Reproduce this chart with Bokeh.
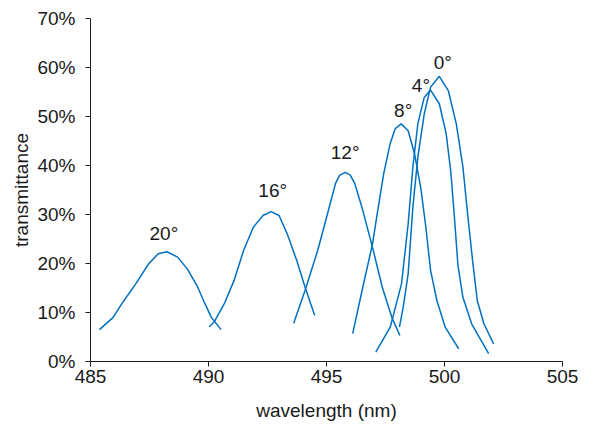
from bokeh.plotting import figure
from bokeh.models import FixedTicker, PrintfTickFormatter, Range1d
from bokeh.core.properties import value
from bokeh.embed import file_html
from bokeh.resources import INLINE

# ---- data ----
x_ticks = [485, 490, 495, 500, 505]
y_ticks = [0, 10, 20, 30, 40, 50, 60, 70]

x20 = [485.38, 485.96, 486.37, 486.91, 487.46, 487.87, 488.24, 488.69, 489.10, 489.51, 489.85, 490.12, 490.53]
y20 = [6.5, 9.0, 12.1, 15.8, 19.9, 22.0, 22.4, 21.3, 18.9, 15.5, 11.8, 9.0, 6.5]

x16 = [490.03, 490.23, 490.67, 491.08, 491.49, 491.90, 492.31, 492.65, 492.99, 493.33, 493.74, 494.09, 494.50]
y16 = [7.1, 8.0, 11.8, 16.5, 22.7, 27.4, 29.8, 30.6, 29.8, 26.1, 20.6, 15.2, 9.4]

x12 = [493.61, 494.09, 494.63, 495.04, 495.38, 495.55, 495.79, 496.00, 496.20, 496.54, 496.95, 497.36, 497.77, 498.11]
y12 = [7.8, 14.5, 22.7, 30.1, 36.3, 38.0, 38.6, 38.1, 36.3, 30.8, 23.3, 15.2, 9.0, 5.3]

x8 = [496.11, 496.54, 496.95, 497.16, 497.43, 497.70, 497.91, 498.16, 498.46, 498.73, 499.00, 499.21, 499.41, 499.68, 500.03, 500.60]
y8 = [5.7, 15.2, 24.0, 30.5, 38.5, 44.5, 47.5, 48.5, 47.1, 42.4, 35.3, 27.4, 18.6, 12.4, 7.0, 2.6]

x4 = [497.09, 497.70, 498.18, 498.46, 498.66, 498.87, 499.14, 499.41, 499.78, 500.07, 500.27, 500.42, 500.57, 500.78, 501.15, 501.87]
y4 = [1.9, 7.0, 15.9, 28.1, 39.7, 48.5, 53.9, 55.4, 52.6, 46.5, 38.6, 29.5, 19.6, 13.1, 7.7, 1.6]

x0 = [498.09, 498.25, 498.46, 498.66, 498.87, 499.14, 499.41, 499.78, 500.16, 500.50, 500.78, 500.98, 501.19, 501.39, 501.67, 502.08]
y0 = [7.0, 11.1, 17.9, 31.5, 41.7, 50.5, 56.0, 58.2, 55.3, 48.5, 39.7, 30.1, 20.6, 12.4, 7.7, 3.6]

labels = ["20°", "16°", "12°", "8°", "4°", "0°"]
label_x = [488.11, 492.72, 495.79, 498.25, 499.00, 499.93]
label_y = [26.2, 34.9, 42.6, 51.3, 56.4, 61.1]

curves = [(x20, y20), (x16, y16), (x12, y12), (x8, y8), (x4, y4), (x0, y0)]

# ---- styling ----
FONT = "Liberation Sans"
FS = "19px"
TXT = "#1a1a1a"
BLUE = "#0070C0"

p = figure(width=578, height=423,
           x_range=Range1d(485, 505), y_range=Range1d(0, 70),
           output_backend="svg", toolbar_location=None,
           min_border_left=90, min_border_right=16,
           min_border_top=18, min_border_bottom=62)
p.outline_line_color = None
p.grid.visible = False
p.background_fill_color = "white"
p.border_fill_color = "white"

for xs, ys in curves:
    p.line(xs, ys, line_color=BLUE, line_width=1.5)

p.text(x=label_x, y=label_y, text=labels,
       text_font=value(FONT), text_font_size=value(FS),
       text_align="center", text_baseline="alphabetic", text_color=TXT)

p.xaxis.ticker = FixedTicker(ticks=x_ticks)
p.yaxis.ticker = FixedTicker(ticks=y_ticks)
p.yaxis.formatter = PrintfTickFormatter(format="%d%%")

p.xaxis.axis_label = "wavelength (nm)"
p.yaxis.axis_label = "transmittance"

for ax in (p.xaxis, p.yaxis):
    ax.axis_line_color = TXT
    ax.axis_line_width = 1
    ax.major_tick_line_color = TXT
    ax.major_tick_in = 0
    ax.major_tick_out = 5
    ax.minor_tick_in = 0
    ax.minor_tick_out = 0
    ax.major_label_text_font = FONT
    ax.major_label_text_font_size = FS
    ax.major_label_text_color = TXT
    ax.axis_label_text_font = FONT
    ax.axis_label_text_font_size = FS
    ax.axis_label_text_font_style = "normal"
    ax.axis_label_text_color = TXT

p.xaxis.major_label_standoff = 3
p.xaxis.axis_label_standoff = 14
p.yaxis.major_label_standoff = 10
p.yaxis.axis_label_standoff = 2

open("out.html", "w").write(file_html(p, INLINE))
